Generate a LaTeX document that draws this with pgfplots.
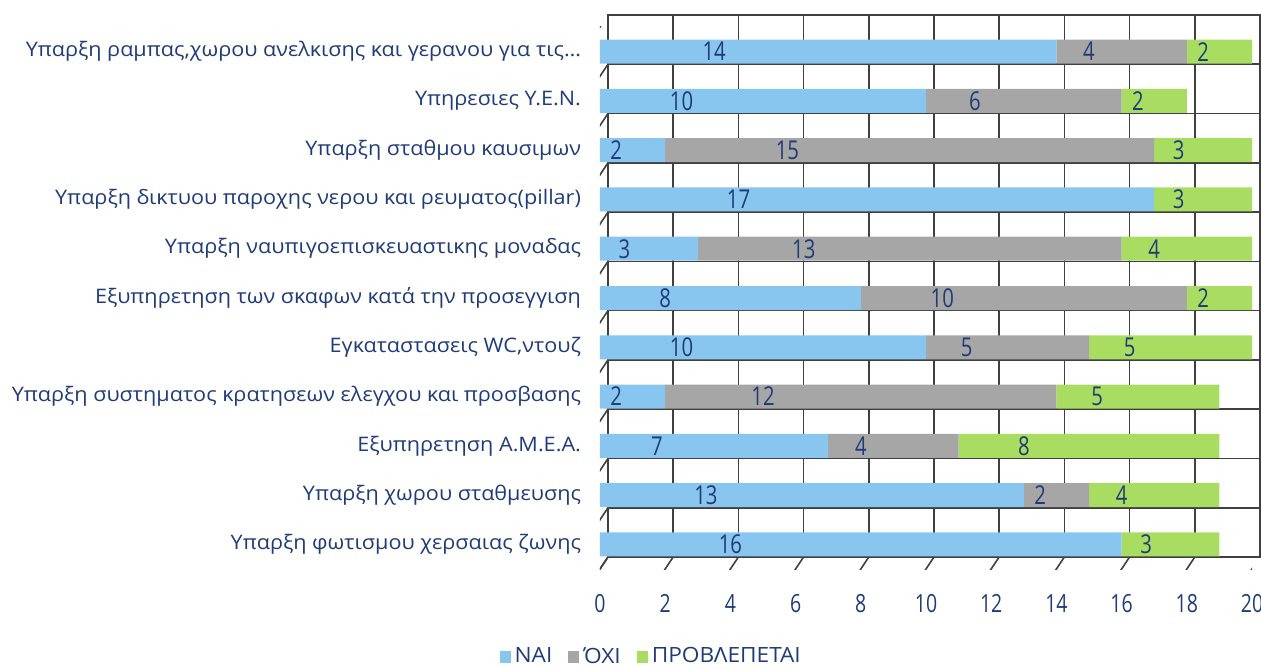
\documentclass[border=0pt]{standalone}
\usepackage{fontspec}
\setmainfont{Open Sans}
\newfontfamily\numfont{Open Sans}[FakeStretch=0.78]
\newfontfamily\labfont{Open Sans}[FakeStretch=1.08]
\usepackage{pgfplots}
\pgfplotsset{compat=1.18}
\usepackage{pgfplotstable}
\definecolor{cBlue}{HTML}{88C5EF}
\definecolor{cGray}{HTML}{A6A6A6}
\definecolor{cGreen}{HTML}{A9DD62}
\definecolor{cText}{HTML}{1F3C78}
\definecolor{cGrid}{HTML}{404040}
\pgfplotstableread{
y a b c
0 16 0 3
1 13 2 4
2 7 4 8
3 2 12 5
4 10 5 5
5 8 10 2
6 3 13 4
7 17 0 3
8 2 15 3
9 10 6 2
10 14 4 2
}\datatable
\begin{document}
\begin{tikzpicture}
\path[use as bounding box] (-300pt,-50pt) rectangle (330.5pt,284.5pt);
% back wall
\begin{axis}[
  at={(4pt,6pt)}, anchor=south west,
  width=326pt, height=271pt, scale only axis,
  xmin=0, xmax=20, ymin=-0.5, ymax=10.5,
  xtick={0,2,...,20}, ytick={-0.5,0.5,...,10.5},
  xticklabels={}, yticklabels={},
  major tick length=0,
  grid=major, grid style={cGrid, line width=0.8pt},
  axis line style={cGrid, line width=0.8pt},
]
\end{axis}
% front plane
\begin{axis}[
  at={(0pt,0pt)}, anchor=south west,
  width=326pt, height=271pt, scale only axis,
  xbar stacked, bar width=12pt,
  xmin=0, xmax=20, ymin=-0.5, ymax=10.5,
  axis line style={draw=none},
  major tick length=0,
  xtick={0,2,...,20}, ytick={0,...,10},
  yticklabels={
    Υπαρξη φωτισμου χερσαιας ζωνης,
    Υπαρξη χωρου σταθμευσης,
    Εξυπηρετηση Α.Μ.Ε.Α.,
    Υπαρξη συστηματος κρατησεων ελεγχου και προσβασης,
    {Εγκαταστασεις WC,ντουζ},
    Εξυπηρετηση των σκαφων κατά την προσεγγιση,
    Υπαρξη ναυπιγοεπισκευαστικης μοναδας,
    Υπαρξη δικτυου παροχης νερου και ρευματος(pillar),
    Υπαρξη σταθμου καυσιμων,
    Υπηρεσιες Υ.Ε.Ν.,
    {Υπαρξη ραμπας,χωρου ανελκισης και γερανου για τις…}
  },
  ticklabel style={text=cText},
  xticklabel style={font=\numfont\fontsize{12.5}{12.5}\selectfont, yshift=-9pt},
  yticklabel style={font=\labfont\fontsize{10}{11}\selectfont, xshift=-6pt},
  /pgf/number format/assume math mode=true,
  legend style={at={(0.08,-0.162)}, anchor=center, draw=none, fill=none,
    legend columns=-1, font=\labfont\fontsize{10.5}{11}\selectfont, text=cText,
    /tikz/every even column/.append style={column sep=6pt}},
  legend image code/.code={\fill[#1,draw=none] (0pt,-3pt) rectangle (5.5pt,3pt);},
  point meta=explicit symbolic,
  nodes near coords={\ifnum\pgfplotspointmeta>0 \pgfplotspointmeta\fi},
  every node near coord/.append style={anchor=center, text=cText,
    font=\numfont\fontsize{13}{13}\selectfont, xshift=-4.075pt*\pgfplotspointmeta},
]
\addplot[fill=cBlue, draw=none] table[x=a,y=y,meta=a]{\datatable};
\addplot[fill=cGray, draw=none] table[x=b,y=y,meta=b]{\datatable};
\addplot[fill=cGreen, draw=none] table[x=c,y=y,meta=c]{\datatable};
\legend{ΝΑΙ, ΌΧΙ, ΠΡΟΒΛΕΠΕΤΑΙ}
\pgfplotsinvokeforeach{0,2,...,20}{\draw[cGrid, line width=0.8pt] (axis cs:#1,-0.5) ++(-2pt,-3pt) -- ++(6pt,9pt);}
\pgfplotsinvokeforeach{-0.5,0.5,...,10.5}{\draw[cGrid, line width=0.8pt] (axis cs:0,#1) ++(-2pt,-3pt) -- ++(6pt,9pt);}
\end{axis}
\end{tikzpicture}
\end{document}
